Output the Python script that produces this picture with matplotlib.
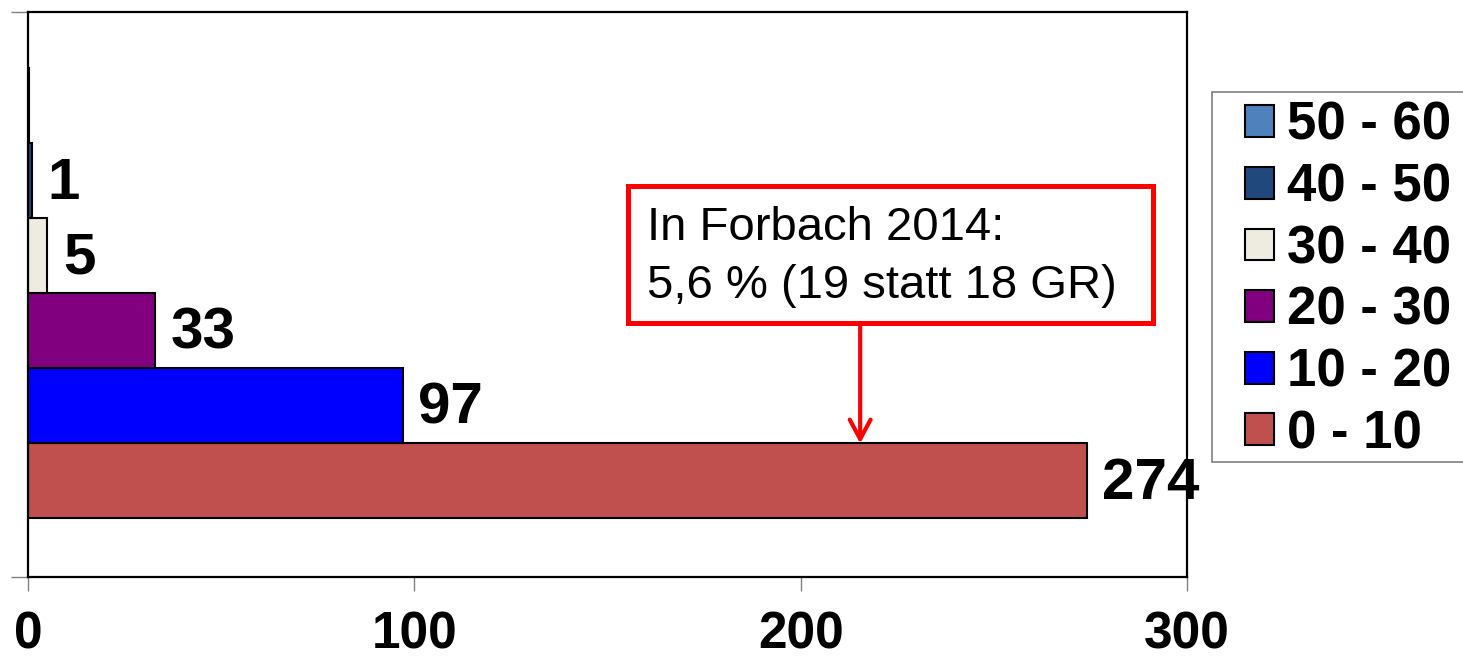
import matplotlib
matplotlib.use("Agg")
import matplotlib.pyplot as plt
from matplotlib.patches import Rectangle

plt.rcParams['font.family'] = ['Liberation Sans', 'DejaVu Sans']

categories = ["0 - 10", "10 - 20", "20 - 30", "30 - 40", "40 - 50", "50 - 60"]
values = [274, 97, 33, 5, 1, 0.3]
value_labels = ["274", "97", "33", "5", "1", ""]
colors = ["#C0504D", "#0000FF", "#800080", "#EEECE1", "#1F497D", "#4F81BD"]
x_ticks = [0, 100, 200, 300]
note_text = "In Forbach 2014:\n5,6 % (19 statt 18 GR)"
note_x = 215.4

W, H = 1463, 660
fig = plt.figure(figsize=(W / 100, H / 100), dpi=100)
ax = fig.add_axes([28 / W, (660 - 577) / H, (1187 - 28) / W, (577 - 12) / H])

ypos = list(range(len(categories)))
bars = ax.barh(ypos, values, height=1.0, color=colors, edgecolor="black", linewidth=1.5)

for y, v, lab in zip(ypos, values, value_labels):
    if lab:
        ax.text(v + 4.0, y - 0.04, lab, fontsize=42, fontweight="bold", va="center", ha="left",
                clip_on=False, zorder=5)

ax.set_xlim(0, 300)
ax.set_ylim(-1.28, 6.253)
ax.set_xticks(x_ticks)
ax.set_xticklabels([str(t) for t in x_ticks], fontsize=37, fontweight="bold")
ax.set_yticks([-1.28, 6.253])
ax.set_yticklabels([])
ax.tick_params(axis="x", direction="out", length=10, width=1, color="#808080", pad=14)
ax.tick_params(axis="y", direction="out", length=12, width=1, color="#808080")
for s in ax.spines.values():
    s.set_linewidth(1.6)
    s.set_color("black")

# annotation box
box_x0, box_x1 = 155.3, 291.2
box_y0, box_y1 = 2.107, 3.933
ax.add_patch(Rectangle((box_x0, box_y0), box_x1 - box_x0, box_y1 - box_y0,
                       facecolor="white", edgecolor="#FF0000", linewidth=3.6, zorder=6))
ax.text(box_x0 + 5.0, box_y1 - 0.27, note_text, fontsize=34, va="top", ha="left",
        linespacing=1.4, zorder=7)
ax.annotate("", xy=(note_x, 0.5), xytext=(note_x, box_y0),
            arrowprops=dict(arrowstyle="->,head_length=1.4,head_width=0.75",
                            color="#FF0000", lw=3, shrinkA=0, shrinkB=0), zorder=7)

# legend
fig.patches.append(Rectangle((1212 / W, 1 - 462 / H), 300 / W, 370 / H,
                             transform=fig.transFigure, facecolor="white",
                             edgecolor="#808080", linewidth=1.2, zorder=1))
handles = [bars[i] for i in range(len(categories))][::-1]
labels = categories[::-1]
leg = fig.legend(handles, labels, loc="upper left", bbox_to_anchor=(1245 / W, 1 - 101 / H),
                 frameon=False, prop=dict(size=38, weight="bold"), handlelength=0.55,
                 handleheight=0.55, handletextpad=0.25, labelspacing=0.22, borderpad=0.0,
                 borderaxespad=0.0)

fig.savefig("out.png", dpi=100)
